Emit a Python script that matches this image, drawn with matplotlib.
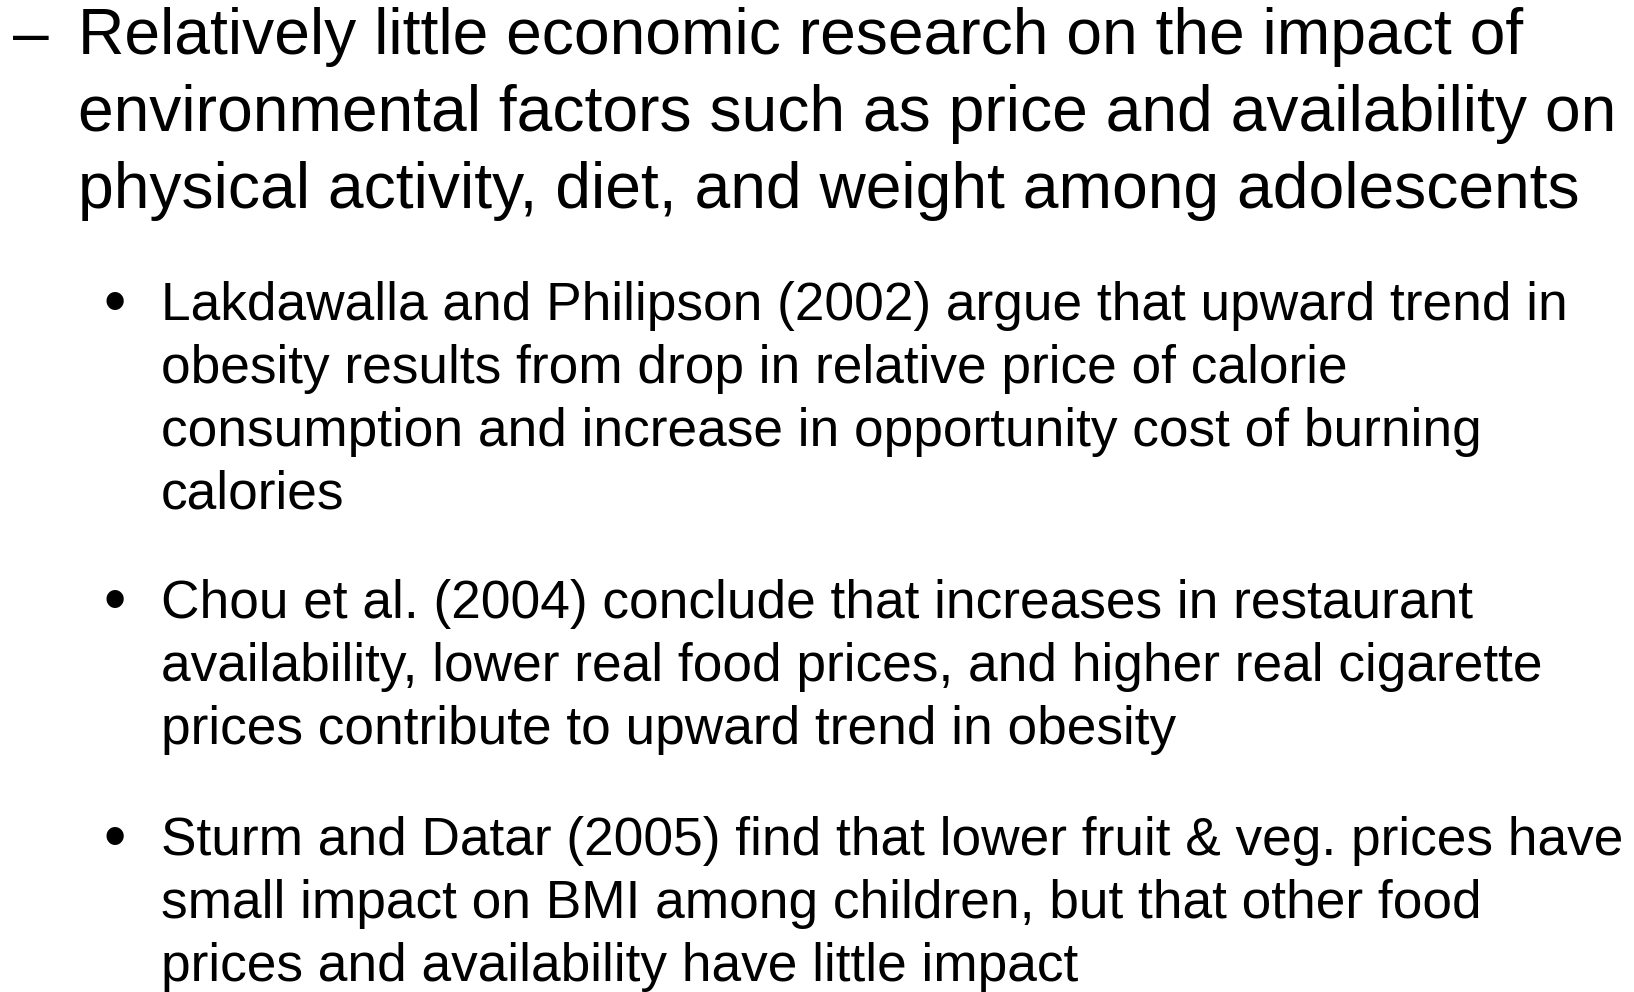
import matplotlib
matplotlib.use("Agg")
import matplotlib.pyplot as plt

W, H = 1634, 992
DPI = 100

# slide text
lead_dash = "\u2013"
lead_lines = [
    "Relatively little economic research on the impact of",
    "environmental factors such as price and availability on",
    "physical activity, diet, and weight among adolescents",
]
bullets = [
    [
        "Lakdawalla and Philipson (2002) argue that upward trend in",
        "obesity results from drop in relative price of calorie",
        "consumption and increase in opportunity cost of burning",
        "calories",
    ],
    [
        "Chou et al. (2004) conclude that increases in restaurant",
        "availability, lower real food prices, and higher real cigarette",
        "prices contribute to upward trend in obesity",
    ],
    [
        "Sturm and Datar (2005) find that lower fruit & veg. prices have",
        "small impact on BMI among children, but that other food",
        "prices and availability have little impact",
    ],
]

FONT = "Liberation Sans"
LEAD_SIZE = 46.2
SUB_SIZE = 38.3
DOT_SIZE = 46


def px(x, y):
    return x / W, 1 - y / H


fig = plt.figure(figsize=(W / DPI, H / DPI), dpi=DPI)
fig.patch.set_facecolor("white")

# level-1 item
fig.text(*px(13, 54), lead_dash, fontsize=LEAD_SIZE, family=FONT, va="baseline")
for i, line in enumerate(lead_lines):
    fig.text(*px(78, 54 + i * 77), line, fontsize=LEAD_SIZE, family=FONT, va="baseline")

# level-2 bullets (dot drawn a bit larger than the text, as in the slide)
starts = [320, 618, 855]
for y0, lines in zip(starts, bullets):
    fig.text(*px(104, y0 + 3), "\u2022", fontsize=DOT_SIZE, family=FONT, va="baseline")
    for j, line in enumerate(lines):
        fig.text(*px(161, y0 + j * 63), line, fontsize=SUB_SIZE, family=FONT, va="baseline")

fig.savefig("out.png", dpi=DPI, facecolor="white")
